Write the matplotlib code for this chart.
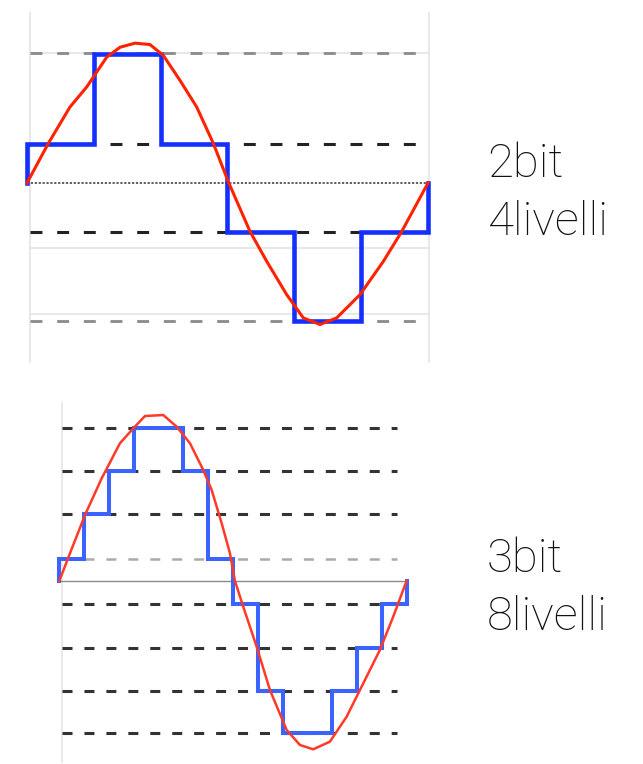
import numpy as np
import matplotlib
matplotlib.use("Agg")
import matplotlib.pyplot as plt

plt.rcParams['lines.scale_dashes'] = False

# ---------------- data (amplitude units, x in sample periods) ----------------
# 2 bit / 4 levels
top_levels = [0.922, 0.277, -0.348, -0.979]
top_level_dark = [False, True, True, False]
top_steps = [0.277, 0.912, 0.277, -0.348, -0.979, -0.348]
top_sig_x = [0, 0.319, 0.643, 0.893, 1.193, 1.392, 1.616, 1.840, 2.040, 2.289, 2.539,
             2.788, 3.012, 3.337, 3.587, 3.886, 4.134, 4.384, 4.634, 4.983, 5.332, 5.607, 6.0]
top_sig_y = [0, 0.281, 0.539, 0.681, 0.893, 0.963, 0.992, 0.982, 0.905, 0.728, 0.539,
             0.281, 0.009, -0.344, -0.556, -0.792, -0.957, -1.004, -0.957, -0.792, -0.556, -0.344, 0]
top_grid = [0.922, -0.459, -0.926]

# 3 bit / 8 levels
bot_levels = [0.914, 0.659, 0.399, 0.130, -0.139, -0.399, -0.659, -0.912]
bot_level_dark = [True, True, True, False, True, True, True, True]
bot_steps = [0.130, 0.399, 0.659, 0.914, 0.914, 0.659, 0.130, -0.139,
             -0.659, -0.912, -0.912, -0.659, -0.399, -0.139]
bot_sig_x = [0, 0.431, 1.036, 1.709, 2.446, 2.983, 3.454, 4.192, 4.732, 5.268, 5.804, 6.143,
             6.546, 6.880, 7.082, 7.416, 7.956, 8.493, 9.166, 9.702, 10.238, 10.911, 11.584,
             12.120, 12.926, 13.462, 14.0]
bot_sig_y = [0, 0.166, 0.395, 0.615, 0.825, 0.914, 0.988, 0.994, 0.924, 0.825, 0.665, 0.545,
             0.346, 0.166, 0, -0.154, -0.393, -0.653, -0.892, -0.982, -1.008, -0.962, -0.813,
             -0.653, -0.413, -0.214, 0]

labels_top = ["2bit", "4livelli"]
labels_bot = ["3bit", "8livelli"]

W, H = 643, 764
fig = plt.figure(figsize=(W / 100, H / 100), dpi=100)
fig.patch.set_facecolor("white")


def ax_px(x0, y0, x1, y1):
    return fig.add_axes([x0 / W, 1 - y1 / H, (x1 - x0) / W, (y1 - y0) / H])


def stairs(steps):
    n = len(steps)
    xs = [0] + list(range(n)) + [n, n]
    ys = [0] + list(steps) + [steps[-1], 0]
    return xs, ys


# ---------------- top panel ----------------
ax1 = ax_px(25, 12, 432, 363)
ax1.set_xlim(-0.030, 6.06)
ax1.set_ylim(-1.277, 1.213)
ax1.axis("off")

for xv in (0.045, 6.015):
    ax1.axvline(xv, color="#e2e2e2", lw=1.1, zorder=1)
for yv in top_grid:
    ax1.hlines(yv, 0.045, 6.015, color="#e2e2e2", lw=1.1, zorder=1)
for yv, dark in zip(top_levels, top_level_dark):
    ax1.hlines(yv, 0.045, 6.015, color="#222222" if dark else "#8a8a8a",
               lw=2.2 if dark else 2.0, linestyles=[(0, (8.6, 10.6))],
               capstyle="butt", zorder=2)
ax1.hlines(0, 0, 6.015, color="#444444", lw=1.2, linestyles=[(0, (1.6, 1.2))], zorder=2)

sx, sy = stairs(top_steps)
ax1.plot(sx, sy, drawstyle="steps-post", color="#1430ff", lw=3.3,
         solid_joinstyle="miter", zorder=3)
ax1.plot(top_sig_x, top_sig_y, color="#ff2200", lw=2.2, solid_joinstyle="round", zorder=4)

# ---------------- bottom panel ----------------
ax2 = ax_px(55, 400, 412, 764)
ax2.set_xlim(-0.173, 14.22)
ax2.set_ylim(-1.096, 1.084)
ax2.axis("off")

ax2.vlines(0.11, -1.09, 1.072, color="#e4e4e4", lw=1.1, zorder=1)
for yv, dark in zip(bot_levels, bot_level_dark):
    ax2.hlines(yv, 0.11, 13.61, color="#333333" if dark else "#aaaaaa",
               lw=2.2 if dark else 1.8, linestyles=[(0, (7.2, 8.6))],
               capstyle="butt", zorder=2)
ax2.hlines(0, 0, 14.0, color="#8a8a8a", lw=1.0, zorder=2)

sx, sy = stairs(bot_steps)
ax2.plot(sx, sy, drawstyle="steps-post", color="#3a63ff", lw=2.9,
         solid_joinstyle="miter", zorder=3)
ax2.plot(bot_sig_x, bot_sig_y, color="#ff3a28", lw=1.8, solid_joinstyle="round", zorder=4)

# ---------------- labels ----------------
font = dict(family=["Roboto", "DejaVu Sans"], weight="light", fontsize=34, color="#111111")
for txt, yb in zip(labels_top, (177, 235)):
    fig.text(487 / W, 1 - yb / H, txt, ha="left", va="baseline", **font)
for txt, yb in zip(labels_bot, (572, 630)):
    fig.text(487 / W, 1 - yb / H, txt, ha="left", va="baseline", **font)

fig.savefig("out.png", dpi=100, facecolor="white")
